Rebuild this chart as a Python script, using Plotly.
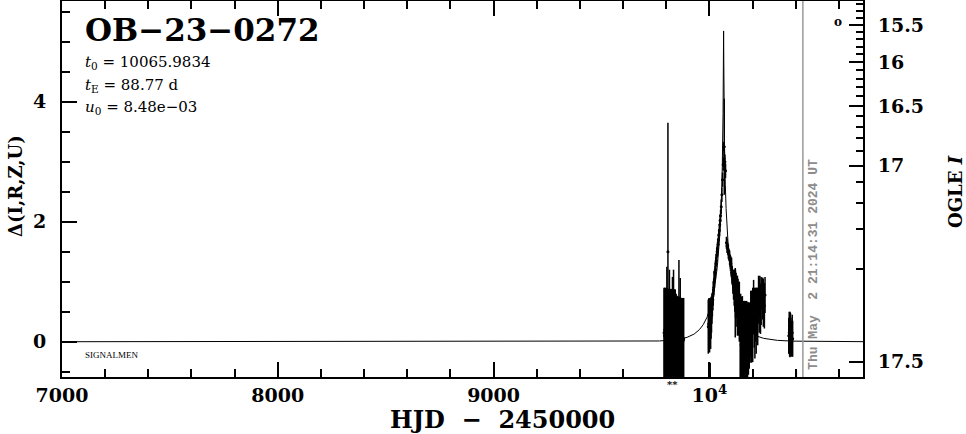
import numpy as np
import plotly.graph_objects as go

# ---------------- chart values ----------------
event_name = "OB-23-0272"
t0 = 10065.9834
tE = 88.77
u0 = 8.48e-03

date_marker_hjd = 10433.385
date_marker_text = "Thu May  2 21:14:31 2024 UT"

# OGLE I magnitude <-> Delta relation (source / blend magnitudes)
I_source = 20.96
I_blend = 17.5335
ogle_major = [15.5, 16.0, 16.5, 17.0, 17.5]
ogle_major_labels = ["15.5", "16", "16.5", "17", "17.5"]
ogle_minor = [15.2, 15.3, 15.4, 15.6, 15.7, 15.8, 15.9, 16.1, 16.2, 16.3, 16.4,
              16.6, 16.7, 16.8, 16.9, 17.1, 17.2, 17.3, 17.4]

x_tickvals = [7000, 8000, 9000, 10000]
x_ticktext = ["7000", "8000", "9000", "10<sup>4</sup>"]
y_tickvals = [0, 2, 4]
y_ticktext = ["0", "2", "4"]

# season 2022 photometry (HJD-2450000, Delta, error)
hjd_2022 = [9790, 9792, 9793, 9795, 9797, 9799, 9801, 9803, 9805, 9806,
            9808, 9810, 9812, 9814, 9815, 9817, 9819, 9821, 9823, 9825,
            9827, 9829, 9831, 9833, 9834, 9836, 9838, 9840, 9842, 9844,
            9846, 9848, 9850, 9852, 9854, 9856, 9858, 9859, 9861, 9863,
            9865, 9867, 9869, 9871, 9873, 9875, 9877, 9879, 9881]
delta_2022 = [0.15, 0.10, 0.20, 0.12, 0.18, 0.08, 0.16, 0.35, 0.11, 0.19,
              1.50, 0.14, 0.09, 0.17, 0.30, 0.12, 0.20, 0.07, 0.15, 0.13,
              0.18, 0.25, 0.10, 0.16, 0.30, 0.12, 0.09, 0.14, 0.11, 0.06,
              0.10, 0.04, 0.08, 0.05, 0.09, 0.03, 0.07, 0.50, 0.06, 0.02,
              0.30, 0.05, 0.08, 0.03, 0.06, 0.04, 0.07, 0.02, 0.05]
err_2022 = [0.75, 0.78, 0.70, 0.76, 0.72, 0.80, 0.73, 0.90, 0.77, 0.70,
            2.15, 0.74, 0.79, 0.71, 0.90, 0.76, 0.68, 0.81, 0.73, 0.75,
            0.70, 0.83, 0.77, 0.72, 0.90, 0.75, 0.78, 0.73, 0.76, 0.72,
            0.70, 0.73, 0.68, 0.70, 0.66, 0.72, 0.67, 0.86, 0.69, 0.72,
            0.76, 0.68, 0.65, 0.70, 0.67, 0.69, 0.66, 0.70, 0.68]

# season 2023-2024 photometry
hjd_2023 = [9995, 9997, 9999, 10001, 10003, 10004, 10006, 10008, 10010, 10012,
            10014, 10016, 10018, 10020, 10022, 10024, 10026, 10028, 10030, 10032,
            10034, 10036, 10038, 10040, 10042, 10044, 10046, 10048, 10050, 10052,
            10055, 10058, 10061, 10064, 10066, 10068, 10069, 10072, 10075, 10079,
            10082, 10085, 10088, 10091, 10094, 10097, 10100, 10103, 10106, 10109,
            10112, 10115, 10118, 10120, 10121, 10124, 10127, 10130, 10133, 10136,
            10139, 10143, 10145, 10147, 10149, 10151, 10153, 10155, 10157, 10159,
            10161, 10163, 10165, 10167, 10169, 10171, 10173, 10175, 10177, 10179,
            10181, 10183, 10185, 10187, 10189, 10192, 10195, 10198, 10201, 10205,
            10208, 10211, 10214, 10217, 10220, 10224, 10228, 10231, 10234, 10237,
            10240, 10244, 10247, 10250, 10255, 10258, 10368, 10370, 10372, 10374,
            10376, 10378, 10380, 10382, 10384, 10386, 10403]
delta_2023 = [0.25, 0.30, 0.28, 0.22, 0.35, -0.75, 0.30, 0.40, 0.45, 0.55,
              0.62, 0.70, 0.80, 0.90, 1.00, 1.05, 1.15, 1.20, 1.30, 1.35,
              1.45, 1.50, 1.55, 1.62, 1.70, 1.78, 1.85, 1.95, 2.02, 2.10,
              2.25, 2.45, 2.70, 2.95, 3.25, 3.05, 3.25, 3.00, 2.85, 1.65,
              1.60, 1.55, 1.50, 1.45, 1.40, 1.35, 1.30, 1.25, 1.10, 1.00,
              0.95, 0.90, 0.85, 0.65, 0.80, 0.70, 0.75, 0.60, 0.65, 0.55,
              0.50, 0.05, 0.10, -0.05, 0.15, 0.00, 0.08, -0.10, 0.12, 0.02,
              0.06, -0.02, 0.10, 0.04, 0.15, -0.06, 0.08, 0.12, 0.00, 0.18,
              0.05, 0.20, 0.10, 0.25, 0.15, 0.30, 0.25, 0.35, 0.28, 0.58,
              0.40, 0.30, 0.45, 0.35, 0.50, 0.42, 0.70, 0.60, 0.75, 0.55,
              0.68, 0.80, 0.72, 0.65, 0.60, 0.78, 0.10, 0.15, 0.05, 0.12,
              0.20, 0.08, 0.10, 0.00, 0.15, 0.05, -0.80]
err_2023 = [0.45, 0.42, 0.45, 0.40, 0.38, 0.40, 0.42, 0.35, 0.30, 0.25,
            0.20, 0.18, 0.20, 0.15, 0.18, 0.15, 0.12, 0.15, 0.12, 0.10,
            0.12, 0.10, 0.12, 0.10, 0.10, 0.10, 0.08, 0.10, 0.10, 0.10,
            0.12, 0.12, 0.12, 0.10, 0.08, 0.15, 0.80, 0.12, 0.12, 0.10,
            0.12, 0.10, 0.12, 0.10, 0.12, 0.10, 0.12, 0.15, 0.15, 0.20,
            0.25, 0.30, 0.35, 0.58, 0.40, 0.45, 0.35, 0.50, 0.40, 0.45,
            0.50, 0.65, 0.70, 0.70, 0.60, 0.75, 0.68, 0.72, 0.55, 0.66,
            0.62, 0.70, 0.58, 0.64, 0.50, 0.66, 0.60, 0.52, 0.62, 0.48,
            0.60, 0.45, 0.55, 0.40, 0.50, 0.55, 0.60, 0.50, 0.62, 0.45,
            0.50, 0.58, 0.45, 0.55, 0.40, 0.48, 0.40, 0.45, 0.35, 0.42,
            0.40, 0.25, 0.35, 0.40, 0.38, 0.30, 0.30, 0.35, 0.30, 0.38,
            0.28, 0.32, 0.25, 0.25, 0.30, 0.30, 0.32]

x_range = [7000, 10712]
y_range = [-0.588, 5.678]

# ---------------- derived ----------------
def mag_to_delta(m):
    f = 10 ** (-0.4 * (np.asarray(m, dtype=float) - I_source))
    fb = 10 ** (-0.4 * (I_blend - I_source))
    return 2.5 * np.log10(f - fb)

# PSPL model from the printed parameters
t_model = np.unique(np.concatenate([
    np.linspace(x_range[0], x_range[1], 4000),
    t0 + tE * np.linspace(-0.3, 0.3, 2401),
]))
u = np.sqrt(u0 ** 2 + ((t_model - t0) / tE) ** 2)
A = (u ** 2 + 2) / (u * np.sqrt(u ** 2 + 4))
delta_model = 2.5 * np.log10(A)

FONT = "DejaVu Serif"

fig = go.Figure()
fig.add_trace(go.Scatter(x=t_model, y=delta_model, mode="lines",
                         line=dict(color="black", width=1), showlegend=False,
                         hoverinfo="skip"))
for xs, ys, es in [(hjd_2022, delta_2022, err_2022), (hjd_2023, delta_2023, err_2023)]:
    fig.add_trace(go.Scatter(
        x=xs, y=ys, mode="markers",
        marker=dict(color="black", size=3),
        error_y=dict(type="data", array=es, color="black", thickness=1.5, width=0),
        showlegend=False))
# dummy trace to carry the right axis
fig.add_trace(go.Scatter(x=[None], y=[None], yaxis="y2", showlegend=False))

fig.add_shape(type="line", xref="x", yref="paper", x0=date_marker_hjd, x1=date_marker_hjd,
              y0=0, y1=1, line=dict(color="#999999", width=1.5))

tickfont = dict(family=FONT, size=19, color="black", weight="bold")

fig.update_layout(
    width=966, height=434,
    margin=dict(l=62, r=103, t=1, b=57),
    paper_bgcolor="white", plot_bgcolor="white",
    showlegend=False,
    xaxis=dict(range=x_range, showgrid=False, zeroline=False,
               showline=True, linecolor="black", linewidth=2, mirror="ticks",
               ticks="inside", ticklen=15, tickwidth=2, tickcolor="black",
               tickmode="array", tickvals=x_tickvals, ticktext=x_ticktext,
               tickfont=tickfont, automargin=False,
               minor=dict(dtick=200, tick0=7000, ticks="inside", ticklen=8,
                          tickwidth=2, tickcolor="black")),
    yaxis=dict(range=y_range, showgrid=False, zeroline=False,
               showline=True, linecolor="black", linewidth=2,
               ticks="inside", ticklen=15, tickwidth=2, tickcolor="black",
               tickmode="array", tickvals=y_tickvals, ticktext=y_ticktext,
               tickfont=tickfont, ticklabelstandoff=10, automargin=False,
               minor=dict(dtick=0.5, tick0=0, ticks="inside", ticklen=8,
                          tickwidth=2, tickcolor="black")),
    yaxis2=dict(range=y_range, overlaying="y", side="right", showgrid=False,
                zeroline=False, showline=True, linecolor="black", linewidth=2,
                ticks="inside", ticklen=14, tickwidth=2, tickcolor="black",
                tickmode="array", tickvals=list(mag_to_delta(ogle_major)),
                ticktext=ogle_major_labels, tickfont=tickfont,
                ticklabelstandoff=9, automargin=False,
                minor=dict(tickmode="array", tickvals=list(mag_to_delta(ogle_minor)),
                           ticks="inside", ticklen=7, tickwidth=2, tickcolor="black")),
)

ann = []
ann.append(dict(text=event_name.replace("-", "−"), x=0.026, y=0.922, xref="paper", yref="paper",
                xanchor="left", yanchor="middle", showarrow=False,
                font=dict(family=FONT, size=31, color="black", weight="bold")))
param_font = dict(family=FONT, size=15, color="black")
ann.append(dict(text=f"<i>t</i><sub>0</sub> = {t0:.4f}", x=0.026, y=(377 - 63) / 376,
                xref="paper", yref="paper", xanchor="left", yanchor="middle",
                showarrow=False, font=param_font))
ann.append(dict(text=f"<i>t</i><sub>E</sub> = {tE:.2f} d", x=0.026, y=(377 - 85) / 376,
                xref="paper", yref="paper", xanchor="left", yanchor="middle",
                showarrow=False, font=param_font))
ann.append(dict(text=f"<i>u</i><sub>0</sub> = {u0:.2e}".replace("-", "−"), x=0.026,
                y=(377 - 107) / 376, xref="paper", yref="paper", xanchor="left",
                yanchor="middle", showarrow=False, font=param_font))
ann.append(dict(text="SIGNALMEN", x=(83 - 62) / 801, y=(377 - 355) / 376,
                xref="paper", yref="paper", xanchor="left", yanchor="middle",
                showarrow=False, font=dict(family="Liberation Serif", size=9, color="black")))
ann.append(dict(text="HJD  −  2450000", x=(502 - 62) / 801, y=(377 - 419) / 376,
                xref="paper", yref="paper", xanchor="center", yanchor="middle",
                showarrow=False, font=dict(family=FONT, size=24, color="black", weight="bold")))
ann.append(dict(text="Δ(I,R,Z,U)", x=(15 - 62) / 801, y=(377 - 186) / 376,
                xref="paper", yref="paper", xanchor="center", yanchor="middle",
                textangle=-90, showarrow=False,
                font=dict(family=FONT, size=18, color="black", weight="bold")))
ann.append(dict(text="OGLE <i>I</i>", x=(955 - 62) / 801, y=(377 - 192) / 376,
                xref="paper", yref="paper", xanchor="center", yanchor="middle",
                textangle=-90, showarrow=False,
                font=dict(family=FONT, size=18, color="black", weight="bold")))
ann.append(dict(text=date_marker_text.replace(" ", "&nbsp;"), x=date_marker_hjd, xshift=10,
                y=(377 - 264) / 376, xref="x", yref="paper",
                xanchor="center", yanchor="middle", textangle=-90, showarrow=False,
                font=dict(family="Liberation Mono", size=13, color="#8c8c8c", weight="bold")))
ann.append(dict(text="**", x=(672 - 62) / 801, y=(377 - 385) / 376, xref="paper", yref="paper",
                xanchor="center", yanchor="middle", showarrow=False,
                font=dict(family=FONT, size=10, color="black", weight="bold")))
ann.append(dict(text="o", x=(838 - 62) / 801, y=(377 - 22) / 376, xref="paper", yref="paper",
                xanchor="center", yanchor="middle", showarrow=False,
                font=dict(family=FONT, size=12, color="black", weight="bold")))
fig.update_layout(annotations=ann)

fig.write_html("out.html", config={"displayModeBar": False},
               post_script="document.body.style.margin='0px';document.body.style.overflow='hidden';")
